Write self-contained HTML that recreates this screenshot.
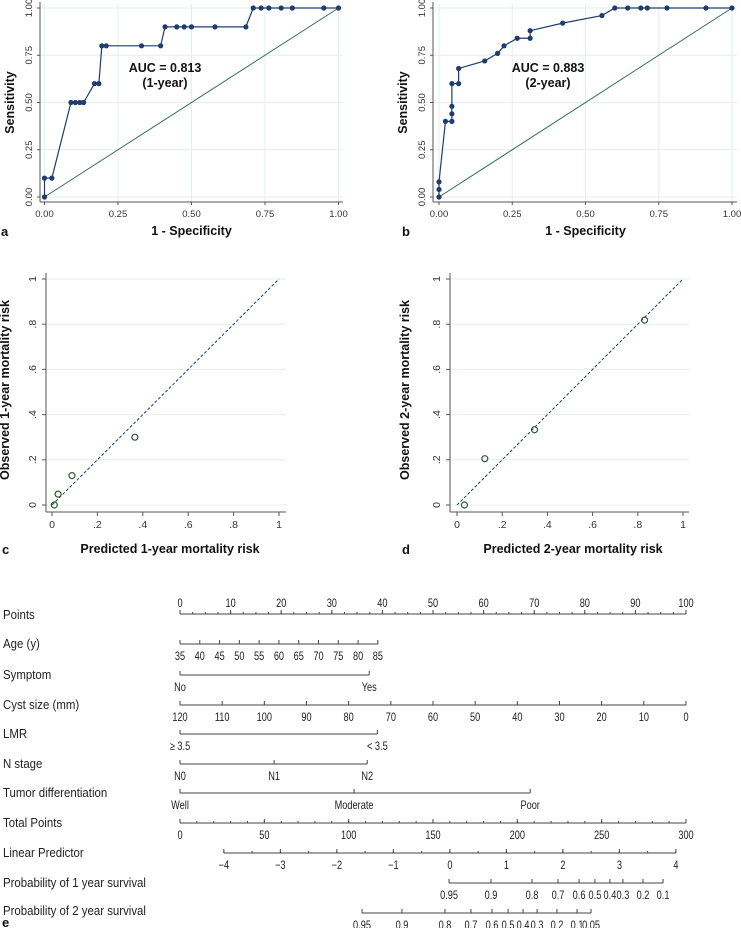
<!DOCTYPE html>
<html><head><meta charset="utf-8">
<style>
html,body{margin:0;padding:0;background:#fff;}
svg{display:block;font-family:"Liberation Sans",Arial,sans-serif;}
</style></head>
<body>
<svg id="fig" width="741" height="928" viewBox="0 0 741 928" xmlns="http://www.w3.org/2000/svg"></svg>
<script>
// ---------- DATA ----------
const rocAx = [0,0,0.025,0.09,0.105,0.12,0.133,0.17,0.185,0.195,0.21,0.33,0.395,0.41,0.45,0.475,0.5,0.58,0.685,0.71,0.737,0.763,0.805,0.843,0.95,1];
const rocAy = [0,0.1,0.1,0.5,0.5,0.5,0.5,0.6,0.6,0.8,0.8,0.8,0.8,0.9,0.9,0.9,0.9,0.9,0.9,1,1,1,1,1,1,1];
const rocBx = [0,0,0,0.022,0.044,0.044,0.044,0.044,0.067,0.067,0.156,0.2,0.222,0.267,0.311,0.311,0.422,0.556,0.6,0.644,0.689,0.711,0.778,0.911,1];
const rocBy = [0,0.04,0.08,0.4,0.4,0.44,0.48,0.6,0.6,0.68,0.72,0.76,0.8,0.84,0.84,0.88,0.92,0.96,1,1,1,1,1,1,1];
const rocTicks = [0,0.25,0.5,0.75,1];
const rocTickLabels = ["0.00","0.25","0.50","0.75","1.00"];
const calCx = [0.01,0.027,0.088,0.365];
const calCy = [0,0.048,0.13,0.3];
const calDx = [0.033,0.123,0.343,0.83];
const calDy = [0,0.205,0.333,0.818];
const calTicks = [0,0.2,0.4,0.6,0.8,1];
const calTickLabels = ["0",".2",".4",".6",".8","1"];
// nomogram: values and their points (0-100 scale)
const ageVals = [35,40,45,50,55,60,65,70,75,80,85];
const agePtsMax = 39.1;
const symVals = ["No","Yes"]; const symPts = [0,37.4];
const cystVals = [120,110,100,90,80,70,60,50,40,30,20,10,0];
const lmrVals = ["\u2265 3.5","< 3.5"]; const lmrPts = [0,39];
const nVals = ["N0","N1","N2"]; const nPts = [0,18.6,37];
const tdVals = ["Well","Moderate","Poor"]; const tdPts = [0,34.4,69.2];
const totalTicks = [0,50,100,150,200,250,300];
const lpTicks = [-4,-3,-2,-1,0,1,2,3,4];
const lpTotalAtMin = 26, lpTotalAtMax = 294;
const p1Labels = ["0.95","0.9","0.8","0.7","0.6","0.5","0.4","0.3","0.2","0.1"];
const p1Total = [159.5,184.4,208.7,224.1,236.6,246.0,254.9,262.6,274.5,286.4];
const p2Labels = ["0.95","0.9","0.8","0.7","0.6","0.5","0.4","0.3","0.2","0.1","0.05"];
const p2Total = [107.9,131.6,157.1,172.5,185.0,194.5,203.4,211.7,223.5,235.4,243.7];

// ---------- HELPERS ----------
const NS="http://www.w3.org/2000/svg";
const svg=document.getElementById('fig');
function mk(tag,attrs,parent){const e=document.createElementNS(NS,tag);for(const k in attrs)e.setAttribute(k,attrs[k]);(parent||svg).appendChild(e);return e;}
function txt(s,attrs,parent){const e=mk('text',attrs,parent);e.textContent=s;return e;}

// ---------- ROC ----------
function roc(cfg){
  const g=mk('g',{});
  
  
  const sx=v=>cfg.x0+(cfg.x1-cfg.x0)*v, sy=v=>cfg.y0+(cfg.y1-cfg.y0)*v;
  rocTicks.forEach(t=>{
    const gl=mk('line',{x1:cfg.axL,x2:cfg.axR,y1:sy(t),y2:sy(t),stroke:'#e3eeee','stroke-width':1},g);
    
    
    const gv=mk('line',{x1:sx(t),x2:sx(t),y1:4,y2:cfg.axB,stroke:'#e3eeee','stroke-width':1},g);
    
    
  });
  mk('line',{x1:cfg.axL,x2:cfg.axL,y1:2,y2:cfg.axB,stroke:'#555','stroke-width':1},g);
  mk('line',{x1:cfg.axL,x2:cfg.axR,y1:cfg.axB,y2:cfg.axB,stroke:'#555','stroke-width':1},g);
  rocTicks.forEach((t,i)=>{
    mk('line',{x1:sx(t),x2:sx(t),y1:cfg.axB,y2:cfg.axB+3,stroke:'#555'},g);
    mk('line',{x1:cfg.axL-3,x2:cfg.axL,y1:sy(t),y2:sy(t),stroke:'#555'},g);
    const xl=txt(rocTickLabels[i],{x:sx(t),y:cfg.axB+15,'font-size':9.5,'text-anchor':'middle',fill:'#333'},g);
    
    
    const yl=txt(rocTickLabels[i],{x:0,y:0,'font-size':9.5,'text-anchor':'middle',fill:'#333',transform:`translate(${cfg.axL-8},${sy(t)}) rotate(-90)`},g);
    
    
  });
  const d=mk('line',{x1:sx(0),y1:sy(0),x2:sx(1),y2:sy(1),stroke:'#2f6e52','stroke-width':1},g);
  
  
  const pts=cfg.xs.map((v,i)=>sx(v)+','+sy(cfg.ys[i])).join(' ');
  const pl=mk('polyline',{points:pts,fill:'none',stroke:'#1c3d6e','stroke-width':1.2},g);
  
  
  cfg.xs.forEach((v,i)=>{
    const c=mk('circle',{cx:sx(v),cy:sy(cfg.ys[i]),r:2.6,fill:'#1c3d6e'},g);
    
    
  });
  const a1=txt(cfg.auc,{x:cfg.aucX,y:72,'font-size':12.5,'font-weight':'bold','text-anchor':'middle',fill:'#111'},g);
  
  
  txt(cfg.yr,{x:cfg.aucX,y:87,'font-size':12.5,'font-weight':'bold','text-anchor':'middle',fill:'#111'},g);
  const xt=txt('1 - Specificity',{x:(cfg.x0+cfg.x1)/2,y:235,'font-size':12.5,'font-weight':'bold','text-anchor':'middle',fill:'#111'},g);
  
  
  const yt=txt('Sensitivity',{x:0,y:0,'font-size':12.5,'font-weight':'bold','text-anchor':'middle',fill:'#111',transform:`translate(${cfg.ytX},${(cfg.y0+cfg.y1)/2}) rotate(-90)`},g);
  
  
  const pl2=txt(cfg.letter,{x:cfg.letX,y:236,'font-size':13,'font-weight':'bold',fill:'#111'},g);
  
  
}
roc({name:'roc-1-year',xs:rocAx,ys:rocAy,x0:44.5,x1:338.5,y0:197,y1:8,axL:40,axR:343,axB:202,auc:'AUC = 0.813',yr:'(1-year)',aucX:165,ytX:14,letter:'a',letX:1});
roc({name:'roc-2-year',xs:rocBx,ys:rocBy,x0:439,x1:732,y0:197,y1:8,axL:433,axR:737,axB:202,auc:'AUC = 0.883',yr:'(2-year)',aucX:548,ytX:407,letter:'b',letX:402});

// ---------- CALIBRATION ----------
function cal(cfg){
  const g=mk('g',{});
  
  
  const sx=v=>cfg.x0+(cfg.x1-cfg.x0)*v, sy=v=>cfg.y0+(cfg.y1-cfg.y0)*v;
  calTicks.forEach((t,i)=>{
    const gl=mk('line',{x1:cfg.axL,x2:cfg.axR,y1:sy(t),y2:sy(t),stroke:'#e3eeee'},g);
    
    
    mk('line',{x1:sx(t),x2:sx(t),y1:512,y2:516,stroke:'#555'},g);
    mk('line',{x1:cfg.axL-4,x2:cfg.axL,y1:sy(t),y2:sy(t),stroke:'#555'},g);
    const xl=txt(calTickLabels[i],{x:sx(t),y:528,'font-size':10.5,'text-anchor':'middle',fill:'#333'},g);
    
    
    const yl=txt(calTickLabels[i],{x:0,y:0,'font-size':10.5,'text-anchor':'middle',fill:'#333',transform:`translate(${cfg.axL-10},${sy(t)}) rotate(-90)`},g);
    
    
  });
  mk('line',{x1:cfg.axL,x2:cfg.axL,y1:273,y2:512,stroke:'#555'},g);
  mk('line',{x1:cfg.axL,x2:cfg.axR,y1:512,y2:512,stroke:'#555'},g);
  const d=mk('line',{x1:sx(0),y1:sy(0),x2:sx(1),y2:sy(1),stroke:'#1c3d6e','stroke-width':1,'stroke-dasharray':'3,2'},g);
  
  
  cfg.xs.forEach((v,i)=>{
    const c=mk('circle',{cx:sx(v),cy:sy(cfg.ys[i]),r:3,fill:'none',stroke:'#2a5a2a','stroke-width':1.2},g);
    
    
  });
  const xt=txt(cfg.xt,{x:cfg.xtX,y:553,'font-size':12.5,'font-weight':'bold','text-anchor':'middle',fill:'#111'},g);
  
  
  const yt=txt(cfg.yt,{x:0,y:0,'font-size':12.5,'font-weight':'bold','text-anchor':'middle',fill:'#111',transform:`translate(${cfg.ytX},390) rotate(-90)`},g);
  
  
  const l=txt(cfg.letter,{x:cfg.letX,y:554,'font-size':13,'font-weight':'bold',fill:'#111'},g);
  
  
}
cal({name:'calibration-1-year',xs:calCx,ys:calCy,x0:52,x1:279,y0:505,y1:279,axL:46,axR:286,xt:'Predicted 1-year mortality risk',xtX:170,yt:'Observed 1-year mortality risk',ytX:9,letter:'c',letX:2});
cal({name:'calibration-2-year',xs:calDx,ys:calDy,x0:457,x1:683,y0:505,y1:279,axL:450,axR:689,xt:'Predicted 2-year mortality risk',xtX:573,yt:'Observed 2-year mortality risk',ytX:409,letter:'d',letX:402});

// ---------- NOMOGRAM ----------
const NX0=180, NX1=686;
const pX=p=>NX0+(NX1-NX0)*p/100;
const tX=t=>NX0+(NX1-NX0)*t/300;
const lpX=v=>tX(lpTotalAtMin+(v+4)/8*(lpTotalAtMax-lpTotalAtMin));
const ng=mk('g',{});


function rowLabel(s,y){
  const t=txt(s,{x:0,y:0,'font-size':13,fill:'#222',transform:`translate(3,${y+4}) scale(0.88,1)`},ng);
  
  
}
function axis(name,y,xa,xb,ticks,labels,above,minor){
  const g=mk('g',{},ng);
  
  
  mk('line',{x1:xa,x2:xb,y1:y,y2:y,stroke:'#444','stroke-width':1},g);
  (minor||[]).forEach(x=>mk('line',{x1:x,x2:x,y1:y,y2:y-2,stroke:'#444'},g));
  ticks.forEach((x,i)=>{
    mk('line',{x1:x,x2:x,y1:y,y2:y-4,stroke:'#444'},g);
    const t=txt(labels[i],{x:0,y:0,'font-size':11.5,'text-anchor':'middle',fill:'#222',transform:`translate(${x},${above?y-7:y+16}) scale(0.8,1)`},g);
    
    
  });
}
rowLabel('Points',615);
{const tk=[],lb=[],mn=[];for(let p=0;p<=100;p+=10){tk.push(pX(p));lb.push(String(p));}for(let p=0;p<100;p+=2.5)mn.push(pX(p));
 axis('points-axis',614,pX(0),pX(100),tk,lb,true,mn);}
rowLabel('Age (y)',644);
axis('age-axis',644,pX(0),pX(agePtsMax),ageVals.map(v=>pX((v-35)/50*agePtsMax)),ageVals.map(String),false);
rowLabel('Symptom',675);
axis('symptom-axis',675,pX(0),pX(symPts[1]),symPts.map(pX),symVals,false);
rowLabel('Cyst size (mm)',705);
axis('cyst-size-axis',705,pX(0),pX(100),cystVals.map(v=>pX((120-v)/120*100)),cystVals.map(String),false);
rowLabel('LMR',734);
axis('lmr-axis',734,pX(0),pX(lmrPts[1]),lmrPts.map(pX),lmrVals,false);
rowLabel('N stage',764);
axis('n-stage-axis',764,pX(0),pX(nPts[2]),nPts.map(pX),nVals,false);
rowLabel('Tumor differentiation',793);
axis('tumor-differentiation-axis',793,pX(0),pX(tdPts[2]),tdPts.map(pX),tdVals,false);
rowLabel('Total Points',823);
{const mn=[];for(let t=0;t<=300;t+=10)mn.push(tX(t));
 axis('total-points-axis',823,tX(0),tX(300),totalTicks.map(tX),totalTicks.map(String),false,mn);}
rowLabel('Linear Predictor',853);
{const mn=[];for(let v=-4;v<=4;v+=0.5)mn.push(lpX(v));
 axis('linear-predictor-axis',853,lpX(-4),lpX(4),lpTicks.map(lpX),lpTicks.map(v=>v<0?'\u2212'+(-v):String(v)),false,mn);}
rowLabel('Probability of 1 year survival',883);
axis('prob-1-year-axis',883,tX(p1Total[0]),tX(p1Total[p1Total.length-1]),p1Total.map(tX),p1Labels,false);
rowLabel('Probability of 2 year survival',911);
axis('prob-2-year-axis',913,tX(p2Total[0]),tX(p2Total[p2Total.length-1]),p2Total.map(tX),p2Labels,false);
const le=txt('e',{x:2,y:927,'font-size':13,'font-weight':'bold',fill:'#111'},ng);


</script>
</body></html>
